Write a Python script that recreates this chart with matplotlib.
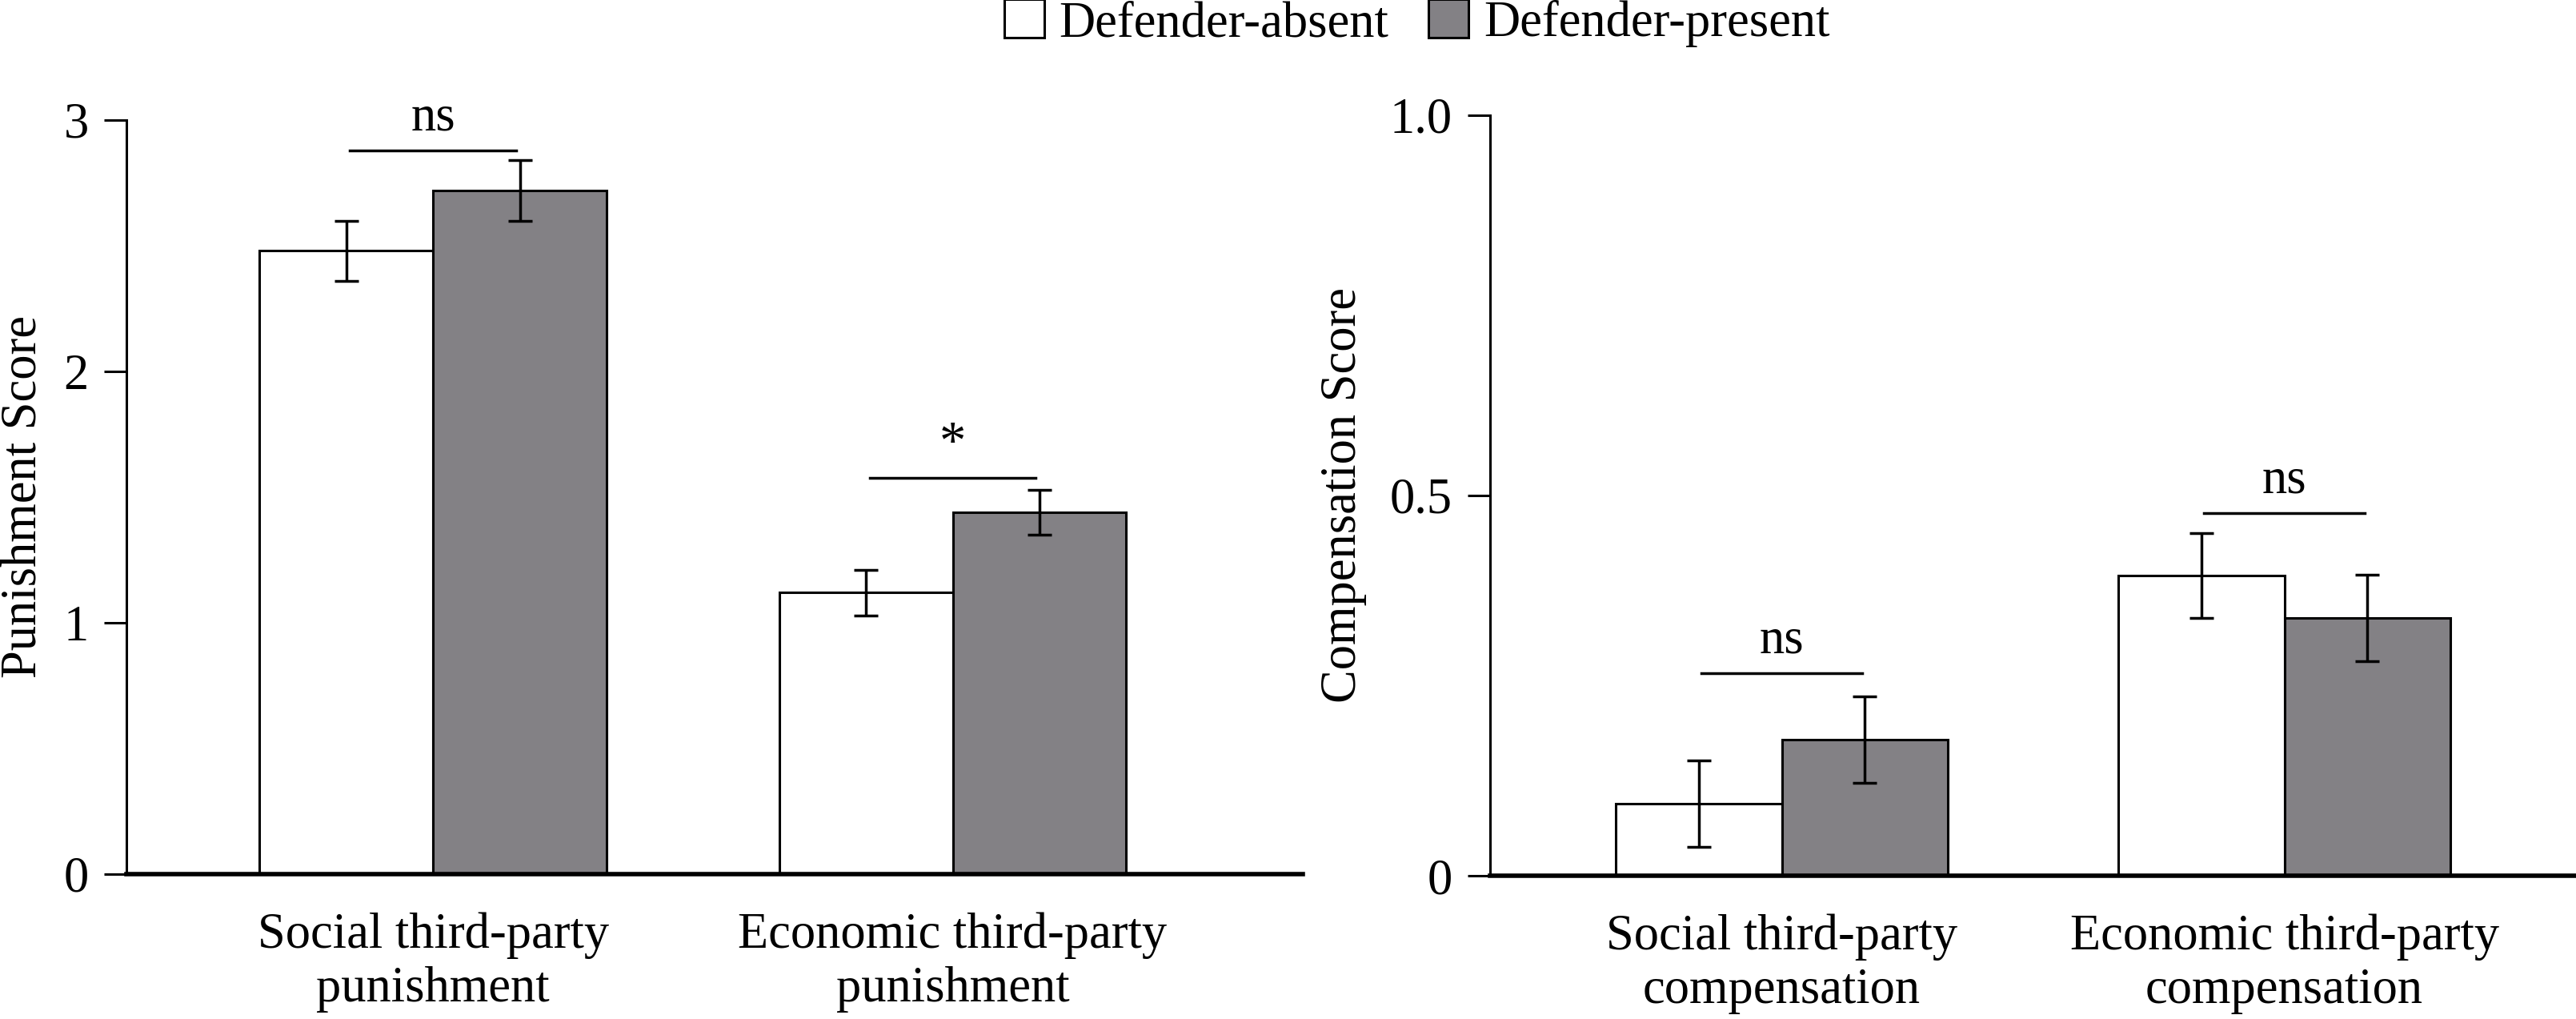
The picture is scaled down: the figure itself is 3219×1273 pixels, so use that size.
import numpy as np
import matplotlib
matplotlib.use("Agg")
import matplotlib.pyplot as plt
from matplotlib.patches import Patch

plt.rcParams['font.family'] = ['Liberation Serif', 'DejaVu Serif']
plt.rcParams['font.size'] = 45

# data
conditions = ['Defender-absent', 'Defender-present']
colors = ['white', '#838185']

pun_labels = ['Social third-party\npunishment', 'Economic third-party\npunishment']
pun_absent = [2.48, 1.12]
pun_present = [2.72, 1.44]
pun_absent_err = [0.12, 0.09]
pun_present_err = [0.12, 0.09]
pun_sig = ['ns', '*']
pun_sig_y = [2.88, 1.575]

comp_labels = ['Social third-party\ncompensation', 'Economic third-party\ncompensation']
comp_absent = [0.095, 0.395]
comp_present = [0.179, 0.339]
comp_absent_err = [0.057, 0.056]
comp_present_err = [0.057, 0.057]
comp_sig = ['ns', 'ns']
comp_sig_y = [0.266, 0.477]

fig = plt.figure(figsize=(32.19, 12.73), dpi=100)
ax1 = fig.add_axes([0.0491, 0.1422, 0.4567, 0.7400])
ax2 = fig.add_axes([0.5785, 0.1406, 0.4215, 0.7463])


def draw_panel(ax, labels, absent, present, aerr, perr, sig, sig_y, ylim, yticks, yticklabels, ylabel, xlim, width):
    x = np.arange(len(labels))
    ax.bar(x - width / 2, absent, width, color=colors[0], edgecolor='black', linewidth=2.2, zorder=2)
    ax.bar(x + width / 2, present, width, color=colors[1], edgecolor='black', linewidth=2.2, zorder=2)
    ax.errorbar(x - width / 2, absent, yerr=aerr, fmt='none', ecolor='black', elinewidth=2.5, capsize=11, capthick=2.5, zorder=3)
    ax.errorbar(x + width / 2, present, yerr=perr, fmt='none', ecolor='black', elinewidth=2.5, capsize=11, capthick=2.5, zorder=3)
    for i, (s, yy) in enumerate(zip(sig, sig_y)):
        ax.plot([x[i] - 0.16, x[i] + 0.16], [yy, yy], color='black', lw=2.5)
        off = (ylim[1] - ylim[0]) * 0.012
        ax.text(x[i], yy + off, s, ha='center', va='bottom', fontsize=45 if s == 'ns' else 48)
    ax.set_xlim(*xlim)
    ax.set_ylim(*ylim)
    ax.set_xticks(x)
    ax.set_xticklabels(labels, linespacing=1.22)
    ax.set_yticks(yticks)
    ax.set_yticklabels(yticklabels)
    ax.tick_params(axis='x', length=0, pad=34)
    ax.tick_params(axis='y', direction='out', length=20, width=2.2, pad=14)
    ax.spines['top'].set_visible(False)
    ax.spines['right'].set_visible(False)
    ax.spines['left'].set_linewidth(2.2)
    ax.spines['bottom'].set_linewidth(4)
    ax.set_ylabel(ylabel)


draw_panel(ax1, pun_labels, pun_absent, pun_present, pun_absent_err, pun_present_err,
           pun_sig, pun_sig_y, (0, 3), [0, 1, 2, 3], ['0', '1', '2', '3'],
           'Punishment Score', (-0.59, 1.674), 0.334)
draw_panel(ax2, comp_labels, comp_absent, comp_present, comp_absent_err, comp_present_err,
           comp_sig, comp_sig_y, (0, 1.0), [0, 0.5, 1.0], ['0', '0.5', '1.0'],
           'Compensation Score', (-0.58, 1.58), 0.33)

ax1.yaxis.set_label_coords(-0.068, 0.5)
ax2.yaxis.set_label_coords(-0.1135, 0.5)

handles = [Patch(facecolor=c, edgecolor='black', linewidth=2.2) for c in colors]
fig.legend(handles, conditions, loc='center', bbox_to_anchor=(0.55, 0.977), ncol=2, frameon=False,
           handlelength=0.8, handleheight=0.8, handletextpad=0.3, columnspacing=0.8, fontsize=45)

fig.savefig('out.png', dpi=100)
